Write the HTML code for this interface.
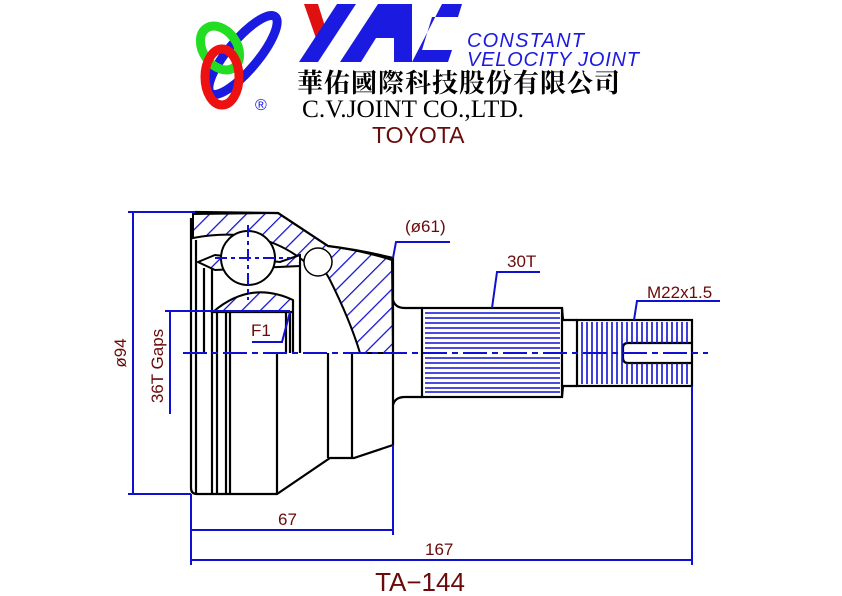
<!DOCTYPE html>
<html><head><meta charset="utf-8"><style>
html,body{margin:0;padding:0;background:#fff;width:842px;height:596px;overflow:hidden}
svg{display:block}
</style></head><body>
<svg width="842" height="596" viewBox="0 0 842 596" xmlns="http://www.w3.org/2000/svg">
<defs>
<pattern id="h" patternUnits="userSpaceOnUse" width="13" height="13" patternTransform="rotate(45)">
<rect width="13" height="13" fill="#fff"/><line x1="0" y1="0" x2="0" y2="13" stroke="#1010d0" stroke-width="2.5"/>
</pattern>
</defs>
<!-- LOGO -->
<ellipse cx="243" cy="55" rx="15" ry="50" transform="rotate(40 243 55)" fill="none" stroke="#1a1ae0" stroke-width="9"/>
<ellipse cx="220" cy="48" rx="17" ry="24" transform="rotate(-35 220 48)" fill="none" stroke="#22dd22" stroke-width="9"/>
<ellipse cx="222" cy="77" rx="17" ry="28" fill="none" stroke="#ee1111" stroke-width="9"/>
<text x="255" y="110" font-family="Liberation Sans,sans-serif" font-size="16" fill="#1a1ae0">®</text>
<polygon points="304,4 318,4 328,36 318,44" fill="#e01010"/>
<polygon points="299,62 337,4 356,4 318,62" fill="#1a1ae0"/>
<polygon points="340,62 378,4 412,4 412,62 394,62 394,38 376,38 361,62" fill="#1a1ae0"/>
<polygon points="412,62 442,4 462,4 458,17 432,17 422,50 452,50 448,62" fill="#1a1ae0"/>
<text x="467" y="47" font-family="Liberation Sans,sans-serif" font-style="italic" font-size="20" fill="#1a1ae0" textLength="117">CONSTANT</text>
<text x="467" y="66" font-family="Liberation Sans,sans-serif" font-style="italic" font-size="20" fill="#1a1ae0" textLength="172">VELOCITY  JOINT</text>
<text x="297" y="92" font-family="Liberation Serif,'Noto Serif CJK SC',serif" font-weight="bold" font-size="26" fill="#000" textLength="323">華佑國際科技股份有限公司</text>
<text x="302" y="117" font-family="Liberation Serif,serif" font-size="25" fill="#000" textLength="222" lengthAdjust="spacingAndGlyphs">C.V.JOINT CO.,LTD.</text>
<text x="372" y="143" font-family="Liberation Sans,sans-serif" font-size="23" fill="#6a0a0a">TOYOTA</text>

<!-- hatched regions -->
<g stroke="#000" stroke-width="2">
<path d="M193,214 L278,213 L328,246 Q360,250 392,260 L393,353 L360,353 Q350,320 330,280 Q320,260 305,262 Q260,225 193,238 Z" fill="url(#h)"/>
<path d="M213,312 Q250,280 293,300 L293,312 Z" fill="url(#h)"/>
<path d="M198,262 L215,255 L280,262 L300,255 L300,266 L215,270 Z" fill="url(#h)"/>
</g>
<circle cx="248" cy="258" r="27" fill="#fff" stroke="#000" stroke-width="2"/>
<circle cx="318" cy="262" r="14" fill="#fff" stroke="#000" stroke-width="1.5"/>

<!-- housing outline -->
<g fill="none" stroke="#000" stroke-width="2.2">
<path d="M195,212 L278,213 L328,246 Q360,250 393,258 L393,300 Q395,308 405,308 L422,308"/>
<path d="M191,218 L191,488 Q191,494 197,494 L277,494 L330,458 L354,458 L393,445 L393,405 Q395,397 405,397 L422,397"/>
<line x1="393" y1="300" x2="393" y2="405"/>
<line x1="196" y1="240" x2="196" y2="494"/>
<line x1="212" y1="312" x2="212" y2="494"/>
<line x1="217" y1="312" x2="217" y2="494"/>
<line x1="226" y1="312" x2="226" y2="494"/>
<line x1="230" y1="312" x2="230" y2="494"/>
<line x1="277" y1="353" x2="277" y2="494"/>
<line x1="328" y1="353" x2="328" y2="458"/>
<line x1="352" y1="353" x2="352" y2="458"/>
<line x1="286" y1="312" x2="286" y2="353"/>
<line x1="290" y1="312" x2="290" y2="353"/>
<line x1="293" y1="300" x2="293" y2="353"/>
<line x1="300" y1="262" x2="300" y2="353"/>
<line x1="204" y1="268" x2="204" y2="353"/>
<line x1="212" y1="268" x2="212" y2="312"/>
<line x1="213" y1="312" x2="293" y2="312"/>
<rect x="422" y="308" width="140" height="89"/>
<path d="M562,308 L563,320 L577,320 M562,397 L563,386 L577,386"/>
<rect x="577" y="320" width="115" height="66"/>
<path d="M692,343 L628,343 Q623,343 623,348 L623,358 Q623,363 628,363 L692,363"/>
</g>
<g stroke="#1010d0" stroke-width="1.6">
<path d="M425,313H560M425,318H560M425,323H560M425,328H560M425,333H560M425,338H560M425,343H560M425,348H560M425,358H560M425,363H560M425,368H560M425,373H560M425,378H560M425,383H560M425,388H560M425,392H560"/>
<path d="M582,322V384M587,322V384M592,322V384M597,322V384M602,322V384M607,322V384M612,322V384M617,322V384M622,322V384M627,322V343M632,322V343M637,322V343M642,322V343M647,322V343M652,322V343M657,322V343M662,322V343M667,322V343M672,322V343M677,322V343M682,322V343M687,322V343M627,363V384M632,363V384M637,363V384M642,363V384M647,363V384M652,363V384M657,363V384M662,363V384M667,363V384M672,363V384M677,363V384M682,363V384M687,363V384"/>
</g>
<g stroke="#1010d0" stroke-width="2" fill="none">
<line x1="183" y1="353" x2="708" y2="353" stroke-dasharray="24,5,6,5"/>
<line x1="248" y1="225" x2="248" y2="300" stroke-dasharray="12,4,4,4"/>
<line x1="215" y1="258" x2="290" y2="258" stroke-dasharray="12,4,4,4"/>
<line x1="133" y1="212" x2="133" y2="494"/>
<line x1="128" y1="212" x2="195" y2="212"/>
<line x1="128" y1="494" x2="191" y2="494"/>
<line x1="170" y1="311" x2="170" y2="414"/>
<line x1="165" y1="311" x2="290" y2="311"/>
<path d="M252,342 L282,342 L290,312"/>
<path d="M393,258 L396,242 L450,242"/>
<path d="M492,308 L497,272 L540,272"/>
<path d="M634,320 L637,301 L720,301"/>
<line x1="191" y1="494" x2="191" y2="565"/>
<line x1="393" y1="445" x2="393" y2="535"/>
<line x1="692" y1="386" x2="692" y2="565"/>
<line x1="191" y1="530" x2="393" y2="530"/>
<line x1="191" y1="560" x2="692" y2="560"/>
</g>
<g font-family="Liberation Sans,sans-serif" fill="#6a0a0a" font-size="17">
<text x="126" y="353" transform="rotate(-90 126 353)" text-anchor="middle">ø94</text>
<text x="163" y="366" transform="rotate(-90 163 366)" text-anchor="middle">36T Gaps</text>
<text x="251" y="336">F1</text>
<text x="405" y="232">(ø61)</text>
<text x="507" y="267">30T</text>
<text x="647" y="298">M22x1.5</text>
<text x="278" y="525">67</text>
<text x="425" y="555">167</text>
<text x="420" y="591" font-size="26" text-anchor="middle">TA−144</text>
</g>
</svg>
</body></html>
